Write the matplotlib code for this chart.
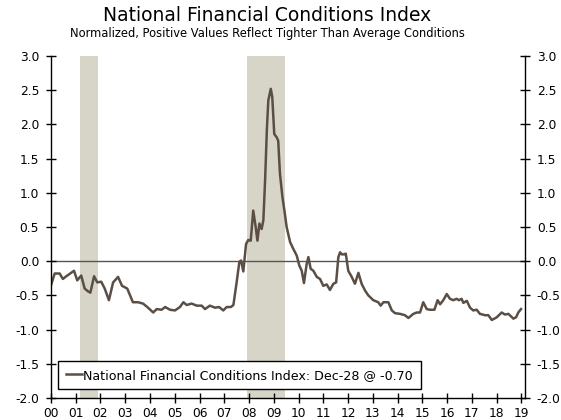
import matplotlib
matplotlib.use("Agg")
import matplotlib.pyplot as plt

# NFCI (decimal year, index value)
years = [2000.00, 2000.15, 2000.35, 2000.48, 2000.62, 2000.93, 2001.06, 2001.22, 2001.36, 2001.49,
         2001.59, 2001.74, 2001.87, 2002.03, 2002.17, 2002.34, 2002.51, 2002.71, 2002.87, 2003.08,
         2003.31, 2003.52, 2003.72, 2003.89, 2004.13, 2004.27, 2004.47, 2004.61, 2004.81, 2005.01,
         2005.21, 2005.35, 2005.48, 2005.68, 2005.89, 2006.09, 2006.22, 2006.42, 2006.63, 2006.79,
         2006.96, 2007.10, 2007.27, 2007.37, 2007.50, 2007.61, 2007.68, 2007.77, 2007.88, 2007.97,
         2008.07, 2008.17, 2008.27, 2008.34, 2008.42, 2008.51, 2008.58, 2008.65, 2008.72, 2008.78,
         2008.88, 2008.94, 2009.02, 2009.12, 2009.18, 2009.25, 2009.35, 2009.45, 2009.52, 2009.66,
         2009.79, 2009.93, 2010.03, 2010.13, 2010.22, 2010.33, 2010.40, 2010.49, 2010.60, 2010.74,
         2010.87, 2011.00, 2011.14, 2011.27, 2011.41, 2011.52, 2011.61, 2011.68, 2011.75, 2011.84,
         2011.91, 2012.01, 2012.15, 2012.28, 2012.42, 2012.55, 2012.69, 2012.82, 2013.02, 2013.22,
         2013.32, 2013.43, 2013.63, 2013.77, 2013.90, 2014.10, 2014.30, 2014.44, 2014.64, 2014.78,
         2014.91, 2015.04, 2015.18, 2015.31, 2015.49, 2015.62, 2015.72, 2015.85, 2015.99, 2016.12,
         2016.25, 2016.39, 2016.48, 2016.59, 2016.66, 2016.80, 2016.93, 2017.06, 2017.20, 2017.33,
         2017.54, 2017.67, 2017.81, 2018.01, 2018.21, 2018.34, 2018.48, 2018.68, 2018.79, 2018.88,
         2018.99]
nfci = [-0.35, -0.18, -0.18, -0.26, -0.22, -0.14, -0.28, -0.21, -0.40, -0.44,
        -0.46, -0.22, -0.31, -0.30, -0.40, -0.57, -0.31, -0.23, -0.36, -0.40,
        -0.60, -0.60, -0.62, -0.67, -0.75, -0.70, -0.71, -0.67, -0.71, -0.72,
        -0.67, -0.60, -0.64, -0.62, -0.65, -0.65, -0.70, -0.65, -0.68, -0.67,
        -0.72, -0.67, -0.67, -0.64, -0.31, -0.01, 0.01, -0.15, 0.25, 0.31,
        0.30, 0.74, 0.50, 0.30, 0.55, 0.47, 0.60, 1.18, 1.91, 2.35,
        2.52, 2.40, 1.86, 1.81, 1.76, 1.28, 0.94, 0.69, 0.50, 0.28,
        0.18, 0.08, -0.06, -0.14, -0.32, -0.04, 0.06, -0.11, -0.14, -0.23,
        -0.26, -0.36, -0.34, -0.42, -0.33, -0.31, 0.06, 0.13, 0.10, 0.10,
        0.11, -0.14, -0.23, -0.33, -0.17, -0.33, -0.43, -0.50, -0.57, -0.60,
        -0.65, -0.60, -0.60, -0.72, -0.76, -0.77, -0.79, -0.83, -0.77, -0.75,
        -0.75, -0.60, -0.70, -0.71, -0.71, -0.57, -0.63, -0.57, -0.48, -0.55,
        -0.57, -0.55, -0.57, -0.55, -0.61, -0.58, -0.68, -0.72, -0.71, -0.77,
        -0.79, -0.79, -0.86, -0.82, -0.75, -0.78, -0.77, -0.84, -0.82, -0.75,
        -0.70]

recession_start = [2001.17, 2007.92]
recession_end = [2001.88, 2009.46]

tick_years = list(range(2000, 2020))
tick_labels = [f"{y % 100:02d}" for y in tick_years]
y_ticks = [-2.0, -1.5, -1.0, -0.5, 0.0, 0.5, 1.0, 1.5, 2.0, 2.5, 3.0]

line_color = "#5b4f45"
shade_color = "#d7d4c8"

fig = plt.figure(figsize=(5.61, 4.20), dpi=100)
ax = fig.add_axes([0.0909, 0.0524, 0.8449, 0.8143])

for s, e in zip(recession_start, recession_end):
    ax.axvspan(s, e, color=shade_color, lw=0, zorder=0)

ax.axhline(0, color="#555555", lw=1.0, zorder=1)
ax.plot(years, nfci, color=line_color, lw=1.8, zorder=2,
        label="National Financial Conditions Index: Dec-28 @ -0.70")

ax.set_xlim(2000, 2019.15)
ax.set_ylim(-2.0, 3.0)
ax.set_xticks(tick_years)
ax.set_xticklabels(tick_labels)
ax.set_yticks(y_ticks)
ax.set_yticklabels([f"{v:.1f}" for v in y_ticks])

ax.spines["top"].set_visible(False)
for side in ["left", "right", "bottom"]:
    ax.spines[side].set_color("black")
    ax.spines[side].set_linewidth(1.0)

ax.tick_params(axis="both", direction="inout", length=7, width=1.0,
               labelsize=8.8, colors="black")
ax.tick_params(axis="y", which="both", right=True, labelright=True, pad=5)
ax.tick_params(axis="x", pad=3)

leg = ax.legend(loc="lower left", bbox_to_anchor=(0.015, 0.025), fontsize=9.1,
                frameon=True, fancybox=False, edgecolor="black", framealpha=1,
                handlelength=1.3, handletextpad=0.1, borderpad=0.6, borderaxespad=0)
leg.get_frame().set_linewidth(1.0)

fig.text(0.476, 0.962, "National Financial Conditions Index", ha="center", va="center",
         fontsize=13.5)
fig.text(0.476, 0.921, "Normalized, Positive Values Reflect Tighter Than Average Conditions",
         ha="center", va="center", fontsize=8.3)

fig.savefig("out.png", dpi=100)
